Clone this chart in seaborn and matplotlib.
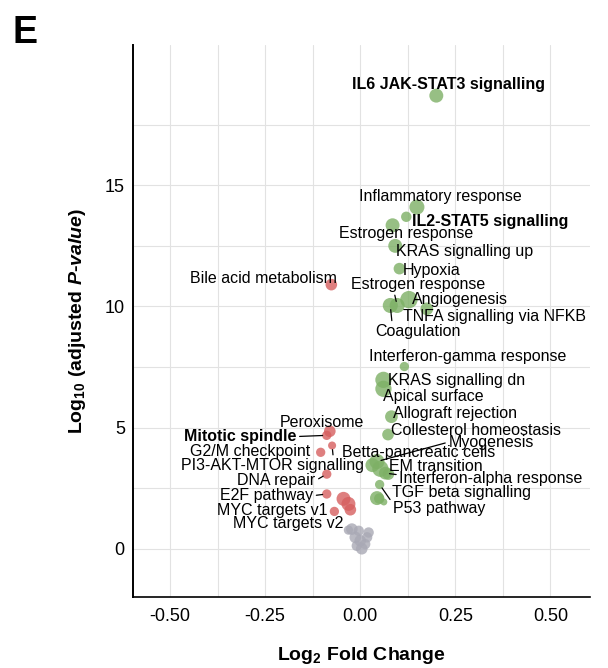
import pandas as pd
import matplotlib
matplotlib.use("Agg")
import matplotlib.pyplot as plt
import seaborn as sns

# Hallmark pathways (labelled points first, unlabelled after)
terms = [
    "IL6 JAK-STAT3 signalling", "Inflammatory response", "IL2-STAT5 signalling",
    "Estrogen response", "KRAS signalling up", "Hypoxia", "Estrogen response",
    "Angiogenesis", "TNFA signalling via NFKB", "Coagulation",
    "Interferon-gamma response", "KRAS signalling dn", "Apical surface",
    "Allograft rejection", "Collesterol homeostasis", "Myogenesis",
    "Betta-pancreatic cells", "EM transition", "Interferon-alpha response",
    "TGF beta signalling", "P53 pathway",
    "Bile acid metabolism", "Peroxisome", "Mitotic spindle", "G2/M checkpoint",
    "PI3-AKT-MTOR signalling", "DNA repair", "E2F pathway", "MYC targets v1",
    "MYC targets v2",
    "", "", "", "", "",
    "", "", "", "", "", "", "", "", "", "",
]
log2fc = [
    0.200, 0.149, 0.121, 0.085, 0.092, 0.103, 0.097, 0.128, 0.175, 0.079,
    0.116, 0.061, 0.061, 0.082, 0.073, 0.044, 0.032, 0.053, 0.066,
    0.044, 0.051,
    -0.076, -0.080, -0.088, -0.104, -0.074, -0.088, -0.088, -0.068,
    -0.026,
    0.050, 0.062, 0.074, -0.044, -0.031,
    -0.031, -0.022, -0.004, 0.022, -0.013, 0.000, 0.013, -0.009, 0.004, 0.018,
]
neg_log10_padj = [
    18.70, 14.10, 13.70, 13.35, 12.50, 11.56, 10.04, 10.28, 9.90, 10.04,
    7.52, 6.97, 6.60, 5.45, 4.71, 3.60, 3.45, 3.30, 3.12,
    2.09, 2.65,
    10.90, 4.85, 4.68, 3.98, 4.26, 3.08, 2.26, 1.54,
    1.61,
    2.07, 1.93, 3.08, 2.06, 1.85,
    0.77, 0.81, 0.74, 0.67, 0.47, 0.33, 0.19, 0.12, 0.00, 0.47,
]
gene_count = [
    36, 42, 20, 36, 36, 25, 42, 56, 30, 42,
    16, 49, 49, 30, 25, 42, 36, 49, 30,
    36, 16,
    25, 25, 16, 16, 12, 16, 16, 16,
    25,
    20, 9, 25, 36, 36,
    16, 25, 20, 20, 25, 25, 20, 20, 25, 20,
]
direction = (["Up"] * 21 + ["Down"] * 9
             + ["Up"] * 3 + ["Down"] * 2 + ["NS"] * 10)

df = pd.DataFrame({"term": terms, "log2FC": log2fc, "neg_log10_padj": neg_log10_padj,
                   "genes": gene_count, "direction": direction})

# label text positions (data coords), alignment, leader line attach point (None = no line)
label_pos = [
    (-0.021, 19.17, "left", None),
    (-0.003, 14.55, "left", None),
    (0.137, 13.51, "left", None),
    (-0.055, 13.02, "left", None),
    (0.095, 12.27, "left", None),
    (0.111, 11.49, "left", None),
    (-0.024, 10.91, "left", (0.32, 0.0)),
    (0.137, 10.29, "left", None),
    (0.113, 9.59, "left", None),
    (0.039, 8.97, "left", (0.2, 1.0)),
    (0.024, 7.93, "left", None),
    (0.074, 6.94, "left", None),
    (0.061, 6.28, "left", None),
    (0.087, 5.58, "left", None),
    (0.082, 4.90, "left", None),
    (0.232, 4.40, "left", (0.0, 0.5)),
    (-0.047, 3.97, "left", None),
    (0.076, 3.39, "left", None),
    (0.103, 2.89, "left", (0.0, 0.75)),
    (0.084, 2.31, "left", None),
    (0.087, 1.65, "left", (0.0, 0.8)),
    (-0.061, 11.16, "right", None),
    (-0.100, 5.21, "center", None),
    (-0.168, 4.63, "right", (1.0, 0.5)),
    (-0.132, 4.00, "right", None),
    (0.011, 3.43, "right", (0.83, 1.0)),
    (-0.118, 2.81, "right", (1.0, 0.5)),
    (-0.124, 2.19, "right", (1.0, 0.5)),
    (-0.087, 1.57, "right", None),
    (-0.045, 1.03, "right", None),
]
bold_terms = {"IL6 JAK-STAT3 signalling", "IL2-STAT5 signalling", "Mitotic spindle"}

sns.set_style("white")
plt.rcParams["font.family"] = ["Liberation Sans", "DejaVu Sans"]
plt.rcParams["mathtext.fontset"] = "custom"
plt.rcParams["mathtext.rm"] = "Liberation Sans"
plt.rcParams["mathtext.it"] = "Liberation Sans:italic"
plt.rcParams["mathtext.bf"] = "Liberation Sans:bold"
plt.rcParams["mathtext.bfit"] = "Liberation Sans:italic:bold"
for key in ["text.color", "axes.labelcolor", "xtick.color", "ytick.color"]:
    plt.rcParams[key] = "black"

fig = plt.figure(figsize=(6.08, 6.68), dpi=100)
ax = fig.add_axes([0.219, 0.106, 0.752, 0.827])

cmin, cmax = min(gene_count), max(gene_count)
sns.scatterplot(
    data=df, x="log2FC", y="neg_log10_padj", hue="direction", size="genes",
    palette={"Up": "#7db065", "Down": "#d65f5f", "NS": "#a9a9b5"},
    sizes=(2.8 * cmin, 2.8 * cmax), size_norm=(cmin, cmax),
    linewidth=0, alpha=0.8, legend=False, ax=ax, zorder=3,
)

for (i, row), (tx, ty, ha, rel) in zip(df.iterrows(), label_pos):
    weight = "bold" if row["term"] in bold_terms else "normal"
    kw = {}
    if rel is not None:
        kw["arrowprops"] = dict(arrowstyle="-", color="black", lw=0.9,
                                shrinkA=0, shrinkB=3, relpos=rel)
    ax.annotate(row["term"], xy=(row["log2FC"], row["neg_log10_padj"]),
                xytext=(tx, ty), textcoords="data", ha=ha, va="center",
                fontsize=11.5, fontweight=weight, zorder=4, **kw)

ax.set_xlim(-0.597, 0.605)
ax.set_ylim(-2.0, 20.8)
ax.set_xticks([-0.5, -0.25, 0, 0.25, 0.5])
ax.set_xticklabels(["-0.50", "-0.25", "0.00", "0.25", "0.50"])
ax.set_xticks([-0.375, -0.125, 0.125, 0.375], minor=True)
ax.set_yticks([0, 5, 10, 15])
ax.set_yticks([2.5, 7.5, 12.5, 17.5], minor=True)
ax.grid(which="both", color="#e2e2e2", linewidth=0.8, zorder=0)
ax.set_axisbelow(True)
ax.tick_params(which="both", length=0, labelsize=13)
ax.tick_params(axis="x", pad=8)
ax.tick_params(axis="y", pad=6)

for side in ["top", "right"]:
    ax.spines[side].set_visible(False)
ax.spines["left"].set_color("black")
ax.spines["left"].set_linewidth(1.4)
ax.spines["bottom"].set_color("black")
ax.spines["bottom"].set_linewidth(1.2)

ax.set_xlabel(r"Log$_{\mathbf{2}}$ Fold Change", fontsize=14, fontweight="bold", labelpad=14)
ax.set_ylabel(r"Log$_{\mathbf{10}}$ (adjusted $\bfit{P}$-$\bfit{value}$)",
              fontsize=14, fontweight="bold", labelpad=12)

fig.text(0.02, 0.935, "E", fontsize=27, fontweight="bold")

fig.savefig("out.png", dpi=100)
